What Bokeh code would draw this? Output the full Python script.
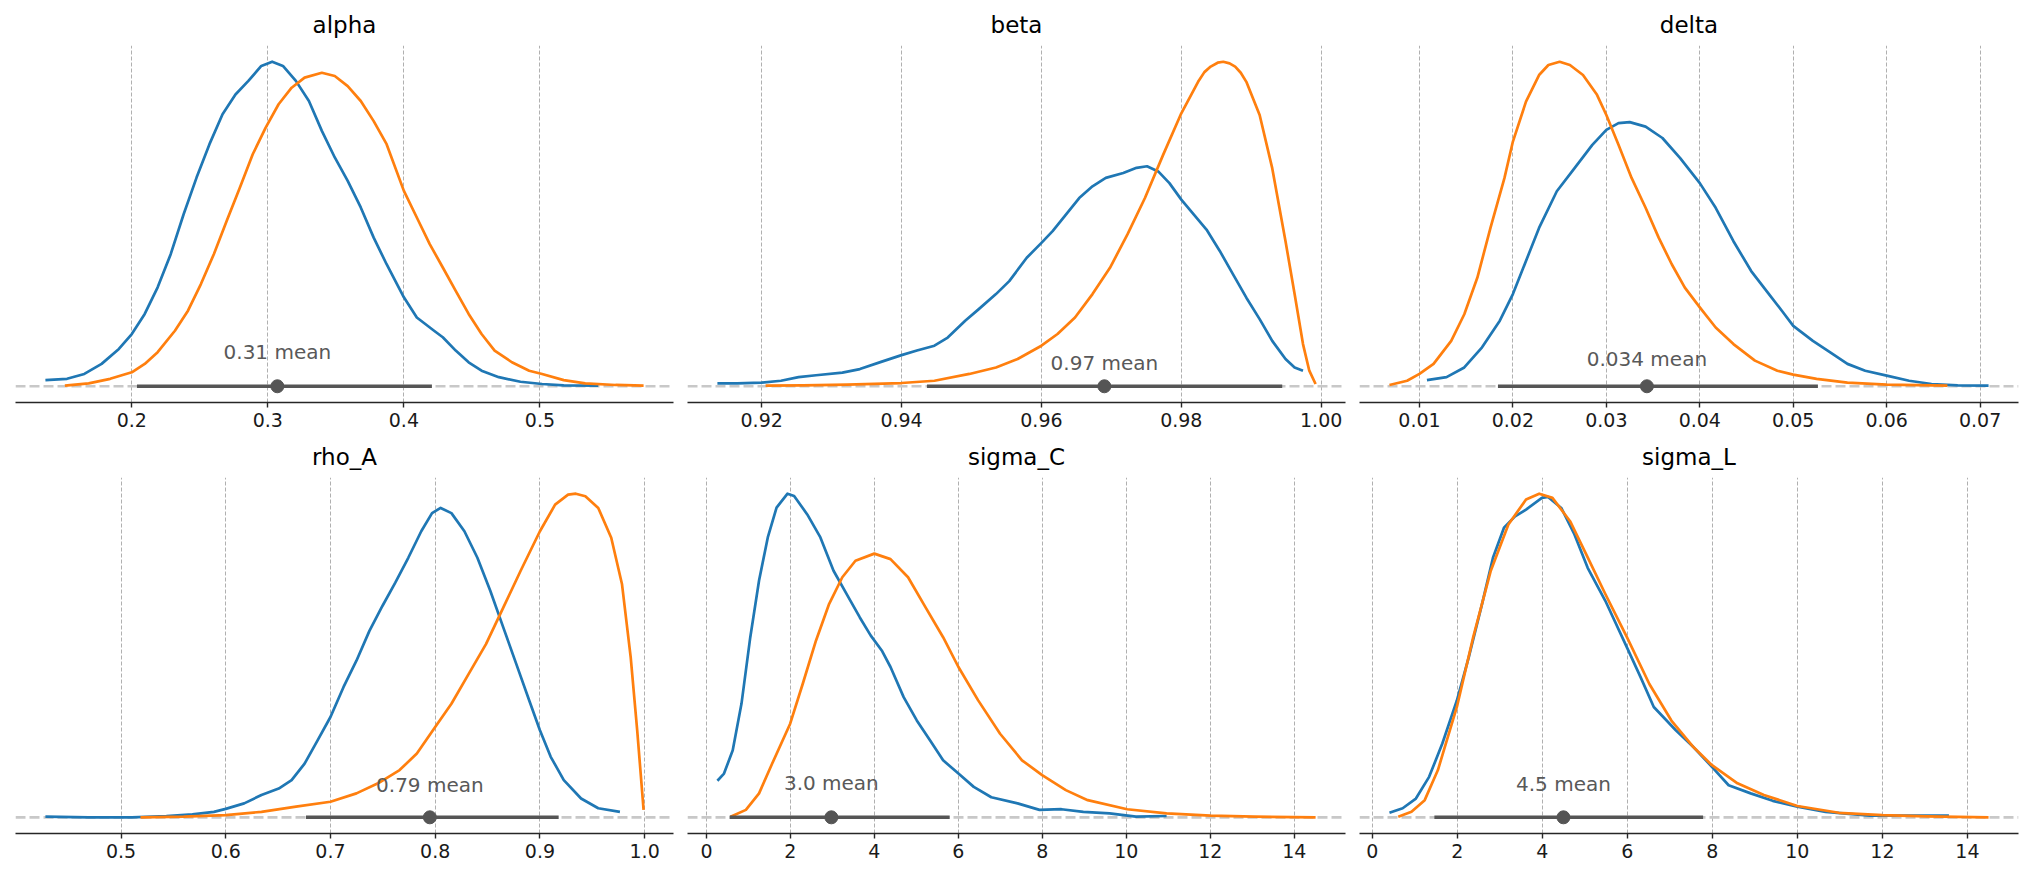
from bokeh.plotting import figure
from bokeh.layouts import gridplot
from bokeh.models import Range1d, FixedTicker, Span
from bokeh.core.properties import value
from bokeh.embed import file_html
from bokeh.resources import INLINE

# ---- data: posterior (blue) and prior (orange) densities, scaled per panel ----
names = ["alpha", "beta", "delta", "rho_A", "sigma_C", "sigma_L"]

alpha_post_x = [0.1365, 0.1524, 0.1651, 0.1778, 0.1905, 0.2000, 0.2095, 0.2190, 0.2286, 0.2381,
                0.2476, 0.2571, 0.2667, 0.2762, 0.2857, 0.2952, 0.3032, 0.3111, 0.3206, 0.3302,
                0.3397, 0.3492, 0.3587, 0.3683, 0.3778, 0.3873, 0.4000, 0.4095, 0.4222, 0.4286,
                0.4381, 0.4476, 0.4571, 0.4698, 0.4857, 0.5016, 0.5175, 0.5429]
alpha_post_y = [0.019, 0.023, 0.038, 0.069, 0.115, 0.161, 0.223, 0.305, 0.407, 0.530,
                0.643, 0.746, 0.838, 0.899, 0.941, 0.987, 1.000, 0.987, 0.941, 0.879,
                0.787, 0.705, 0.633, 0.551, 0.458, 0.376, 0.274, 0.212, 0.171, 0.151,
                0.110, 0.074, 0.048, 0.028, 0.014, 0.007, 0.003, 0.002]
alpha_prior_x = [0.1508, 0.1683, 0.1841, 0.2000, 0.2095, 0.2190, 0.2317, 0.2413, 0.2508, 0.2603,
                 0.2698, 0.2794, 0.2889, 0.2984, 0.3079, 0.3175, 0.3270, 0.3397, 0.3492, 0.3587,
                 0.3683, 0.3778, 0.3873, 0.4000, 0.4095, 0.4190, 0.4286, 0.4381, 0.4476, 0.4571,
                 0.4667, 0.4794, 0.4921, 0.5016, 0.5175, 0.5333, 0.5556, 0.5762]
alpha_prior_y = [0.002, 0.009, 0.023, 0.043, 0.069, 0.105, 0.171, 0.233, 0.315, 0.407,
                 0.510, 0.612, 0.715, 0.797, 0.869, 0.920, 0.951, 0.966, 0.956, 0.925,
                 0.879, 0.817, 0.746, 0.602, 0.520, 0.438, 0.366, 0.294, 0.223, 0.161,
                 0.110, 0.074, 0.048, 0.038, 0.019, 0.009, 0.004, 0.002]

beta_post_x = [0.91367, 0.91649, 0.92000, 0.92276, 0.92527, 0.92777, 0.93154, 0.93404, 0.93718, 0.94000,
               0.94220, 0.94470, 0.94660, 0.94910, 0.95100, 0.95350, 0.95540, 0.95790, 0.96000, 0.96160,
               0.96350, 0.96540, 0.96730, 0.96920, 0.97170, 0.97360, 0.97510, 0.97670, 0.97830, 0.98000,
               0.98180, 0.98360, 0.98550, 0.98740, 0.98930, 0.99120, 0.99300, 0.99490, 0.99620, 0.99740]
beta_post_y = [0.009, 0.009, 0.011, 0.017, 0.028, 0.034, 0.042, 0.053, 0.076, 0.096,
               0.110, 0.125, 0.150, 0.202, 0.237, 0.284, 0.324, 0.396, 0.442, 0.478,
               0.529, 0.580, 0.616, 0.642, 0.657, 0.673, 0.678, 0.662, 0.626, 0.575,
               0.529, 0.483, 0.417, 0.345, 0.273, 0.207, 0.140, 0.084, 0.058, 0.048]
beta_prior_x = [0.92056, 0.92590, 0.93220, 0.94000, 0.94470, 0.94970, 0.95350, 0.95660, 0.96000, 0.96230,
                0.96480, 0.96730, 0.96980, 0.97230, 0.97480, 0.97740, 0.98000, 0.98240, 0.98330, 0.98420,
                0.98520, 0.98600, 0.98690, 0.98770, 0.98850, 0.98930, 0.99120, 0.99300, 0.99490, 0.99620,
                0.99740, 0.99830, 0.99920]
beta_prior_y = [0.002, 0.003, 0.005, 0.010, 0.017, 0.038, 0.058, 0.084, 0.125, 0.161,
                0.212, 0.284, 0.365, 0.468, 0.580, 0.713, 0.841, 0.938, 0.968, 0.985,
                0.997, 1.000, 0.995, 0.985, 0.966, 0.938, 0.836, 0.672, 0.447, 0.284,
                0.130, 0.048, 0.007]

delta_post_x = [0.0108, 0.0129, 0.0148, 0.0167, 0.0186, 0.0200, 0.0214, 0.0228, 0.0247, 0.0266,
                0.0285, 0.0300, 0.0313, 0.0325, 0.0342, 0.0360, 0.0379, 0.0400, 0.0417, 0.0436,
                0.0455, 0.0474, 0.0488, 0.0500, 0.0521, 0.0540, 0.0558, 0.0577, 0.0600, 0.0624,
                0.0648, 0.0676, 0.0709]
delta_post_y = [0.019, 0.028, 0.058, 0.120, 0.202, 0.284, 0.386, 0.488, 0.601, 0.672,
                0.744, 0.790, 0.811, 0.814, 0.800, 0.765, 0.703, 0.626, 0.550, 0.447,
                0.355, 0.284, 0.232, 0.186, 0.140, 0.104, 0.069, 0.048, 0.033, 0.017,
                0.007, 0.003, 0.002]
delta_prior_x = [0.00679, 0.00868, 0.0100, 0.01151, 0.0134, 0.0148, 0.0162, 0.0176, 0.0191, 0.0200,
                 0.0214, 0.0228, 0.0238, 0.0250, 0.0261, 0.0275, 0.0290, 0.0300, 0.0313, 0.0327,
                 0.0342, 0.0356, 0.0370, 0.0384, 0.0400, 0.0417, 0.0436, 0.0459, 0.0483, 0.0500,
                 0.0525, 0.0558, 0.0600, 0.0665]
delta_prior_y = [0.004, 0.017, 0.038, 0.069, 0.140, 0.222, 0.335, 0.488, 0.642, 0.754,
                 0.877, 0.959, 0.990, 1.000, 0.990, 0.959, 0.898, 0.836, 0.744, 0.642,
                 0.550, 0.458, 0.376, 0.304, 0.243, 0.181, 0.130, 0.079, 0.048, 0.036,
                 0.023, 0.011, 0.005, 0.002]

rho_A_post_x = [0.4278, 0.4691, 0.5103, 0.5433, 0.5681, 0.5887, 0.6000, 0.6176, 0.6341, 0.6506,
                0.6629, 0.6753, 0.6877, 0.7000, 0.7124, 0.7248, 0.7372, 0.7496, 0.7619, 0.7743,
                0.7867, 0.7970, 0.8052, 0.8155, 0.8279, 0.8403, 0.8526, 0.8650, 0.8774, 0.8898,
                0.9000, 0.9103, 0.9228, 0.9393, 0.9557, 0.9764]
rho_A_post_y = [0.002, 0.000, 0.000, 0.004, 0.009, 0.017, 0.026, 0.043, 0.069, 0.089,
                0.115, 0.166, 0.238, 0.310, 0.402, 0.484, 0.576, 0.653, 0.725, 0.802,
                0.884, 0.940, 0.956, 0.940, 0.884, 0.802, 0.700, 0.587, 0.474, 0.361,
                0.269, 0.187, 0.115, 0.058, 0.028, 0.017]
rho_A_prior_x = [0.5186, 0.5598, 0.6000, 0.6341, 0.6671, 0.7000, 0.7248, 0.7454, 0.7660, 0.7825,
                 0.8000, 0.8155, 0.8320, 0.8485, 0.8650, 0.8815, 0.9000, 0.9145, 0.9269, 0.9343,
                 0.9434, 0.9557, 0.9681, 0.9784, 0.9867, 0.9929, 0.9990]
rho_A_prior_y = [0.000, 0.002, 0.007, 0.017, 0.033, 0.048, 0.074, 0.105, 0.146, 0.197,
                 0.279, 0.351, 0.443, 0.535, 0.648, 0.761, 0.884, 0.966, 0.997, 1.000,
                 0.992, 0.956, 0.864, 0.720, 0.494, 0.269, 0.023]

sigma_C_post_x = [0.261, 0.418, 0.626, 0.835, 1.044, 1.253, 1.461, 1.670, 1.931, 2.088,
                  2.401, 2.714, 3.027, 3.340, 3.653, 3.914, 4.175, 4.384, 4.697, 5.010,
                  5.324, 5.637, 6.002, 6.367, 6.785, 7.411, 7.933, 8.455, 8.977, 9.603,
                  10.230, 10.960]
sigma_C_post_y = [0.113, 0.135, 0.207, 0.351, 0.556, 0.731, 0.864, 0.956, 0.999, 0.992,
                  0.935, 0.864, 0.761, 0.689, 0.617, 0.561, 0.515, 0.464, 0.371, 0.299,
                  0.238, 0.176, 0.135, 0.094, 0.062, 0.043, 0.023, 0.025, 0.017, 0.012,
                  0.002, 0.004]
sigma_C_prior_x = [0.574, 0.939, 1.253, 1.566, 1.994, 2.296, 2.610, 2.923, 3.236, 3.549,
                   3.998, 4.384, 4.802, 5.219, 5.637, 6.002, 6.472, 6.994, 7.516, 7.996,
                   8.560, 9.081, 10.021, 10.960, 12.004, 13.048, 14.509]
sigma_C_prior_y = [0.002, 0.023, 0.074, 0.166, 0.289, 0.413, 0.546, 0.659, 0.741, 0.792,
                   0.814, 0.797, 0.741, 0.648, 0.556, 0.464, 0.361, 0.258, 0.176, 0.130,
                   0.084, 0.053, 0.025, 0.012, 0.005, 0.002, 0.000]

sigma_L_post_x = [0.404, 0.715, 1.026, 1.337, 1.648, 1.990, 2.269, 2.580, 2.839, 3.098,
                  3.358, 3.617, 3.990, 4.135, 4.446, 4.756, 5.067, 5.482, 5.990, 6.311,
                  6.622, 7.140, 7.554, 7.990, 8.383, 8.902, 9.420, 10.000, 10.663, 11.699,
                  13.565]
sigma_L_post_y = [0.014, 0.028, 0.058, 0.125, 0.228, 0.361, 0.494, 0.658, 0.802, 0.895,
                  0.930, 0.951, 0.987, 0.990, 0.956, 0.874, 0.771, 0.669, 0.525, 0.433,
                  0.341, 0.269, 0.217, 0.156, 0.099, 0.074, 0.051, 0.033, 0.017, 0.005,
                  0.005]
sigma_L_prior_x = [0.611, 0.922, 1.233, 1.544, 1.990, 2.373, 2.788, 3.202, 3.617, 3.927,
                   4.238, 4.653, 5.067, 5.482, 5.990, 6.518, 7.036, 7.554, 7.990, 8.591,
                   9.212, 10.000, 10.974, 12.000, 13.047, 14.497]
sigma_L_prior_y = [0.002, 0.017, 0.053, 0.146, 0.341, 0.556, 0.762, 0.905, 0.982, 1.000,
                   0.987, 0.915, 0.803, 0.690, 0.557, 0.412, 0.299, 0.217, 0.161, 0.105,
                   0.069, 0.035, 0.014, 0.007, 0.003, 0.000]

# posterior summaries: mean and 94% HDI bounds
post_means = [0.307, 0.969, 0.03434, 0.7949, 2.975, 4.497]
hdi_low = [0.2038, 0.94364, 0.01840, 0.6766, 0.553, 1.461]
hdi_high = [0.4206, 0.99443, 0.05264, 0.9179, 5.793, 7.782]

# x tick positions and labels per panel
tick_values = [
    [0.2, 0.3, 0.4, 0.5],
    [0.92, 0.94, 0.96, 0.98, 1.0],
    [0.01, 0.02, 0.03, 0.04, 0.05, 0.06, 0.07],
    [0.5, 0.6, 0.7, 0.8, 0.9, 1.0],
    [0, 2, 4, 6, 8, 10, 12, 14],
    [0, 2, 4, 6, 8, 10, 12, 14],
]
tick_labels = [
    ["0.2", "0.3", "0.4", "0.5"],
    ["0.92", "0.94", "0.96", "0.98", "1.00"],
    ["0.01", "0.02", "0.03", "0.04", "0.05", "0.06", "0.07"],
    ["0.5", "0.6", "0.7", "0.8", "0.9", "1.0"],
    ["0", "2", "4", "6", "8", "10", "12", "14"],
    ["0", "2", "4", "6", "8", "10", "12", "14"],
]

posterior = [(alpha_post_x, alpha_post_y), (beta_post_x, beta_post_y),
             (delta_post_x, delta_post_y), (rho_A_post_x, rho_A_post_y),
             (sigma_C_post_x, sigma_C_post_y), (sigma_L_post_x, sigma_L_post_y)]
prior = [(alpha_prior_x, alpha_prior_y), (beta_prior_x, beta_prior_y),
         (delta_prior_x, delta_prior_y), (rho_A_prior_x, rho_A_prior_y),
         (sigma_C_prior_x, sigma_C_prior_y), (sigma_L_prior_x, sigma_L_prior_y)]

# ---- styling ----
FONT = "DejaVu Sans"
BLUE = "#1f77b4"
ORANGE = "#ff7f0e"
DARK = "#555555"

col_borders = [(15, 7, 658), (7, 7, 658), (7, 14, 659)]   # left, right, frame width
row_borders = [(45, 33, 357), (42, 47, 356)]              # top, bottom, frame height


def make_panel(i):
    r, c = divmod(i, 3)
    left, right, fw = col_borders[c]
    top, bottom, fh = row_borders[r]

    px, py = posterior[i]
    qx, qy = prior[i]
    xmin = min(min(px), min(qx))
    xmax = max(max(px), max(qx))
    xpad = 0.05 * (xmax - xmin)
    ymax = max(max(py), max(qy))

    p = figure(frame_width=fw, frame_height=fh,
               min_border_left=left, min_border_right=right,
               min_border_top=top, min_border_bottom=bottom,
               x_range=Range1d(xmin - xpad, xmax + xpad),
               y_range=Range1d(-0.05 * ymax, 1.05 * ymax),
               output_backend="svg", toolbar_location=None, tools="")
    p.outline_line_color = None
    p.background_fill_color = "white"
    p.border_fill_color = "white"

    p.title.text = names[i]
    p.title.align = "center"
    p.title.vertical_align = "middle"
    p.title.text_font = FONT
    p.title.text_font_size = "23px"
    p.title.text_font_style = "normal"
    p.title.text_color = "black"
    p.title.standoff = 13

    p.yaxis.visible = False
    p.ygrid.visible = False

    ax = p.xaxis[0]
    ax.ticker = FixedTicker(ticks=tick_values[i])
    ax.major_label_overrides = dict(zip(tick_values[i], tick_labels[i]))
    ax.major_label_text_font = FONT
    ax.major_label_text_font_size = "19px"
    ax.major_label_text_color = "#1a1a1a"
    ax.major_label_standoff = 5
    ax.major_tick_in = 0
    ax.major_tick_out = 5
    ax.major_tick_line_color = "#262626"
    ax.major_tick_line_width = 1.4
    ax.minor_tick_line_color = None
    ax.axis_line_color = "#262626"
    ax.axis_line_width = 1.5

    p.xgrid.ticker = FixedTicker(ticks=tick_values[i])
    p.xgrid.grid_line_color = "#b0b0b0"
    p.xgrid.grid_line_width = 1
    p.xgrid.grid_line_dash = "4 2"

    # zero reference line
    p.add_layout(Span(location=0, dimension="width", line_color="#c8c8c8",
                      line_width=2.7, line_dash="10 4", level="underlay"))

    p.line(px, py, line_color=BLUE, line_width=2.7, line_join="round")
    p.line(qx, qy, line_color=ORANGE, line_width=2.7, line_join="round")

    # HDI bar, mean point and its label
    p.line([hdi_low[i], hdi_high[i]], [0, 0], line_color=DARK, line_width=3.5)
    p.scatter([post_means[i]], [0], size=13, color=DARK)
    label = "{:#.2g} mean".format(post_means[i])
    p.text(x=[post_means[i]], y=[0.105 * max(py)], text=[label],
           text_font=value(FONT), text_font_size="20px",
           text_align="center", text_baseline="middle", text_color="#595959")
    return p


panels = [make_panel(i) for i in range(6)]
grid = gridplot([panels[0:3], panels[3:6]], toolbar_location=None)

open("out.html", "w").write(file_html(grid, INLINE))
